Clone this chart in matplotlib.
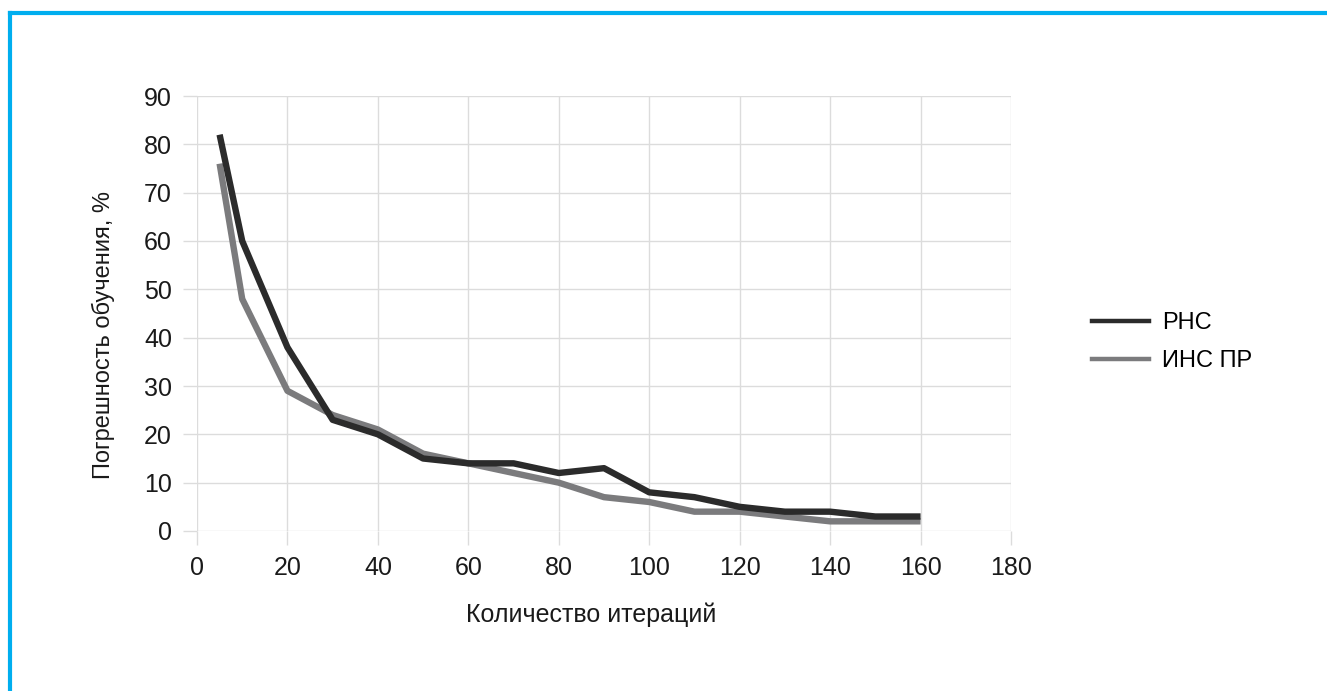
import matplotlib
matplotlib.use("Agg")
import matplotlib.pyplot as plt
from matplotlib.lines import Line2D

plt.rcParams["font.family"] = ["Liberation Sans", "DejaVu Sans"]

iterations = [5, 10, 20, 30, 40, 50, 60, 70, 80, 90, 100, 110, 120, 130, 140, 150, 160]
rnn_error = [82, 60, 38, 23, 20, 15, 14, 14, 12, 13, 8, 7, 5, 4, 4, 3, 3]
ann_error = [76, 48, 29, 24, 21, 16, 14, 12, 10, 7, 6, 4, 4, 3, 2, 2, 2]
series_names = ["РНС", "ИНС ПР"]

W, H = 1327, 691
fig = plt.figure(figsize=(W / 100, H / 100), dpi=100)
ax = fig.add_axes([197 / W, 1 - 531 / H, 814 / W, 435 / H])

grid_c = "#dcdcdc"
ax.plot(iterations, ann_error, color="#7b7b7d", lw=4.6, solid_capstyle="butt", zorder=3)
ax.plot(iterations, rnn_error, color="#2b2b2b", lw=4.6, solid_capstyle="butt", zorder=4)

ax.set_xlim(0, 180)
ax.set_ylim(0, 90)
ax.set_xticks(range(0, 181, 20))
ax.set_yticks(range(0, 91, 10))
ax.grid(True, color=grid_c, lw=1)
ax.set_axisbelow(True)
for s in ax.spines.values():
    s.set_visible(False)
ax.tick_params(axis="both", length=10, width=1, color=grid_c, labelsize=18,
               labelcolor="#1a1a1a", pad=8)

ax.set_xlabel("Количество итераций", fontsize=18, color="#1a1a1a", va="center")
ax.xaxis.set_label_coords(0.484, -0.193)
ax.set_ylabel("Погрешность обучения, %", fontsize=17, color="#1a1a1a", va="center", ha="center")
ax.yaxis.set_label_coords(-0.1155, 0.4506)

handles = [Line2D([], [], color="#2b2b2b", lw=3.2),
           Line2D([], [], color="#7b7b7d", lw=3.2)]
fig.legend(handles, series_names, loc="center left", bbox_to_anchor=(1071 / W, 1 - 342 / H),
           frameon=False, fontsize=17, handlelength=2.4, handletextpad=0.55, labelspacing=0.66)

# blue frame on top and left
fig.add_artist(Line2D([10 / W, 1], [1 - 13 / H, 1 - 13 / H], color="#00aeef", lw=3,
                      transform=fig.transFigure))
fig.add_artist(Line2D([10 / W, 10 / W], [0, 1 - 13 / H], color="#00aeef", lw=3,
                      transform=fig.transFigure))

fig.savefig("out.png", dpi=100)
